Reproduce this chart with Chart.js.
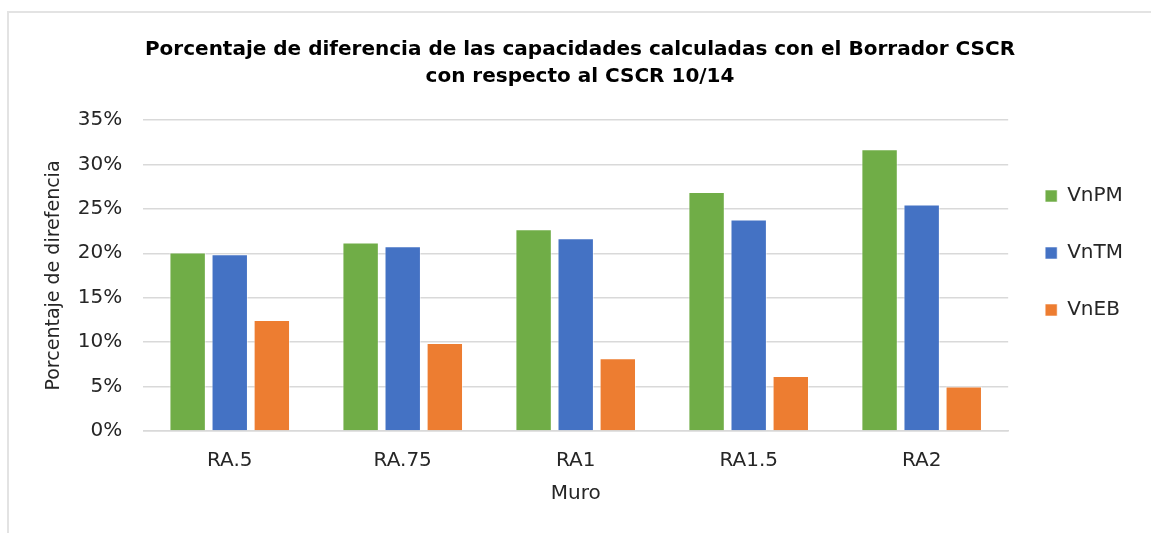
<!DOCTYPE html>
<html>
<head>
<meta charset="utf-8">
<script src="https://cdn.jsdelivr.net/npm/chart.js@4.4.1/dist/chart.umd.min.js"></script>
<style>
  html, body { margin: 0; padding: 0; background: #fff; overflow: hidden; }
  #frame {
    position: absolute; left: 7px; top: 11px; right: 0; bottom: 0;
    border-left: 2px solid #e3e3e3; border-top: 2px solid #e3e3e3;
  }
  #wrap { position: absolute; left: 0; top: 0; width: 1151px; height: 533px; }
</style>
</head>
<body>
<div id="frame"></div>
<div id="wrap"><canvas id="c"></canvas></div>
<script>
// Muros evaluados
const categories = ['RA.5', 'RA.75', 'RA1', 'RA1.5', 'RA2'];
// Porcentaje de diferencia por tipo de capacidad
const vnPM = [20.1, 21.2, 22.7, 26.9, 31.7];
const vnTM = [19.9, 20.8, 21.7, 23.8, 25.5];
const vnEB = [12.5, 9.9, 8.2, 6.2, 5.0];
const yTicks = [0, 5, 10, 15, 20, 25, 30, 35];

const FONT = "'DejaVu Sans', sans-serif";
const TXT = '#262626';

const ds = (label, data, color) => ({
  label, data,
  backgroundColor: color,
  borderColor: 'rgba(255,255,255,0.55)',
  borderWidth: 1,
  categoryPercentage: 0.73,
  barPercentage: 0.865
});

new Chart(document.getElementById('c'), {
  type: 'bar',
  data: {
    labels: categories,
    datasets: [
      ds('VnPM', vnPM, '#70ad47'),
      ds('VnTM', vnTM, '#4472c4'),
      ds('VnEB', vnEB, '#ed7d31')
    ]
  },
  options: {
    responsive: true,
    maintainAspectRatio: false,
    animation: false,
    layout: { padding: { left: 27, right: 18, top: 0, bottom: 27 } },
    plugins: {
      title: {
        display: true,
        text: ['Porcentaje de diferencia de las capacidades calculadas con el Borrador CSCR',
               'con respecto al CSCR 10/14'],
        color: '#000',
        font: { family: FONT, size: 20, weight: 'bold', lineHeight: 1.35 },
        padding: { top: 36, bottom: 30 }
      },
      legend: {
        position: 'right',
        align: 'center',
        labels: {
          color: TXT,
          font: { family: FONT, size: 20 },
          boxWidth: 12, boxHeight: 12,
          padding: 37
        }
      },
      tooltip: { enabled: false }
    },
    scales: {
      x: {
        grid: { display: false, drawTicks: false },
        border: { color: '#d9d9d9', width: 1.5 },
        ticks: { color: TXT, font: { family: FONT, size: 20 }, padding: 18 },
        title: { display: true, text: 'Muro', color: TXT, font: { family: FONT, size: 20 }, padding: { top: -9, bottom: 0 } }
      },
      y: {
        min: 0, max: 35,
        afterBuildTicks: (axis) => { axis.ticks = yTicks.map(v => ({ value: v })); },
        grid: { color: '#d9d9d9', lineWidth: 1.5, drawTicks: false },
        border: { display: false },
        ticks: { color: TXT, font: { family: FONT, size: 20 }, padding: 21, callback: v => v + '%' },
        title: { display: true, text: 'Porcentaje de direfencia', color: TXT, font: { family: FONT, size: 19 }, padding: { top: 16, bottom: -9 } }
      }
    }
  }
});
</script>
</body>
</html>
